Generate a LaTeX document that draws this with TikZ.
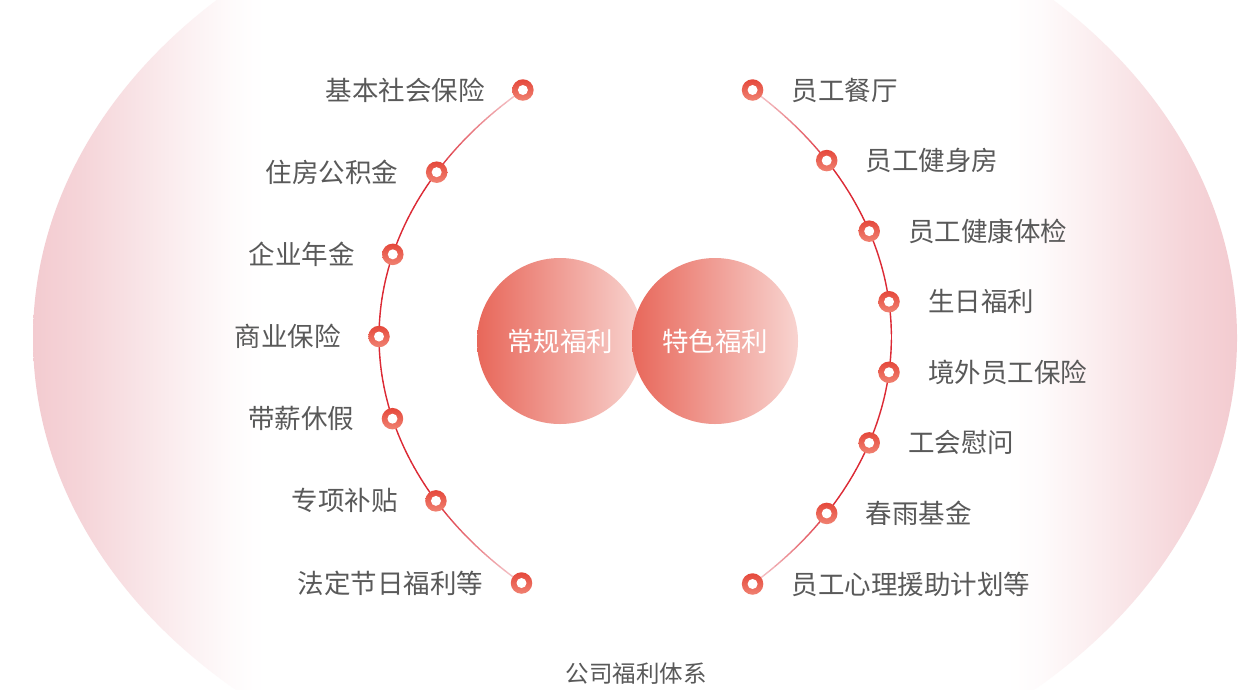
\documentclass[tikz,border=0pt]{standalone}
\usepackage{fontspec}
\setmainfont{Noto Sans CJK SC}
\definecolor{bgpink}{HTML}{F3CBD0}
\definecolor{arcred}{HTML}{DC2A35}
\definecolor{arcpale}{HTML}{F7D3D6}
\definecolor{dottop}{HTML}{E5483B}
\definecolor{dotbot}{HTML}{F08272}
\definecolor{txtgray}{HTML}{595959}
\definecolor{cirL}{HTML}{E8675A}
\definecolor{cirR}{HTML}{F8D4D0}
\colorlet{bgA}{bgpink!82!white}
\colorlet{bgB}{bgpink!55!white}
\colorlet{bgC}{bgpink!28!white}
\colorlet{bgD}{bgpink!8!white}
\pgfdeclarehorizontalshading{bgshade}{100bp}{color(0bp)=(bgpink); color(25bp)=(bgpink); color(27bp)=(bgA); color(29.2bp)=(bgB); color(31.4bp)=(bgC); color(33.2bp)=(bgD); color(34.6bp)=(white); color(65.4bp)=(white); color(66.8bp)=(bgD); color(68.6bp)=(bgC); color(70.8bp)=(bgB); color(73bp)=(bgA); color(75bp)=(bgpink); color(100bp)=(bgpink)}
\begin{document}
\begin{tikzpicture}[x=1pt,y=-1pt,
  ringdot/.style={circle, inner sep=0pt, minimum size=21.5pt, top color=dottop, bottom color=dotbot,
    path picture={\fill[white] (path picture bounding box.center) circle[radius=5pt];}},
  lbl/.style={text=txtgray, font=\fontsize{26.5}{28}\selectfont, inner sep=0pt},
  bigcirc/.style={circle, minimum size=166pt, inner sep=0pt, left color=cirL, right color=cirR,
    text=white, font=\fontsize{26.5}{28}\selectfont},
  arcseg/.style={line width=1.4pt, line cap=round}]
\useasboundingbox (0,0) rectangle (1249,689);
\fill[white] (0,0) rectangle (1249,689);
\begin{scope}
\clip (0,0) rectangle (1249,689);
\shade[shading=bgshade] (635,338) ellipse [x radius=602, y radius=470];
\end{scope}
% left arc
\foreach \i in {0,...,92} {
  \pgfmathsetmacro\pa{-46.6+\i*93.2/93}
  \pgfmathsetmacro\pb{-46.6+(\i+1)*93.2/93}
  \pgfmathsetmacro\ff{min(100,max(12,(46.6-abs((\pa+\pb)/2))/18*100))}
  \draw[arcseg, color=arcred!\ff!arcpale] ({839-460*cos(\pa)},{337+340*sin(\pa)}) -- ({839-460*cos(\pb)},{337+340*sin(\pb)});
}
% right arc
\foreach \i in {0,...,90} {
  \pgfmathsetmacro\pa{-45.7+\i*91.4/91}
  \pgfmathsetmacro\pb{-45.7+(\i+1)*91.4/91}
  \pgfmathsetmacro\ff{min(100,max(12,(45.7-abs((\pa+\pb)/2))/16*100))}
  \draw[arcseg, color=arcred!\ff!arcpale] ({431.4+460*cos(\pa)},{337+345*sin(\pa)}) -- ({431.4+460*cos(\pb)},{337+345*sin(\pb)});
}
% left items
\foreach \k/\t in {0/基本社会保险,1/住房公积金,2/企业年金,3/商业保险,4/带薪休假,5/专项补贴,6/法定节日福利等} {
  \pgfmathsetmacro\yy{90+\k*82.17}
  \pgfmathsetmacro\xx{839-460*sqrt(1-((\yy-337)/340)^2)}
  \node[ringdot] (L\k) at (\xx,\yy) {};
  \node[lbl, anchor=east] (LT\k) at ([xshift=-38pt]L\k.center) {\t};
}
% right items
\foreach \k/\t in {0/员工餐厅,1/员工健身房,2/员工健康体检,3/生日福利,4/境外员工保险,5/工会慰问,6/春雨基金,7/员工心理援助计划等} {
  \pgfmathsetmacro\yy{90+\k*70.57}
  \pgfmathsetmacro\xx{431.4+460*sqrt(1-((\yy-337)/345)^2)}
  \node[ringdot] (R\k) at (\xx,\yy) {};
  \node[lbl, anchor=west] (RT\k) at ([xshift=39pt]R\k.center) {\t};
}
% centre circles
\node[bigcirc] (C1) at (560,341) {常规福利};
\node[bigcirc] (C2) at (715,341) {特色福利};
% title
\node[text=txtgray, font=\fontsize{23.5}{25}\selectfont, inner sep=0pt] (T) at (636,674) {公司福利体系};
\end{tikzpicture}
\end{document}
